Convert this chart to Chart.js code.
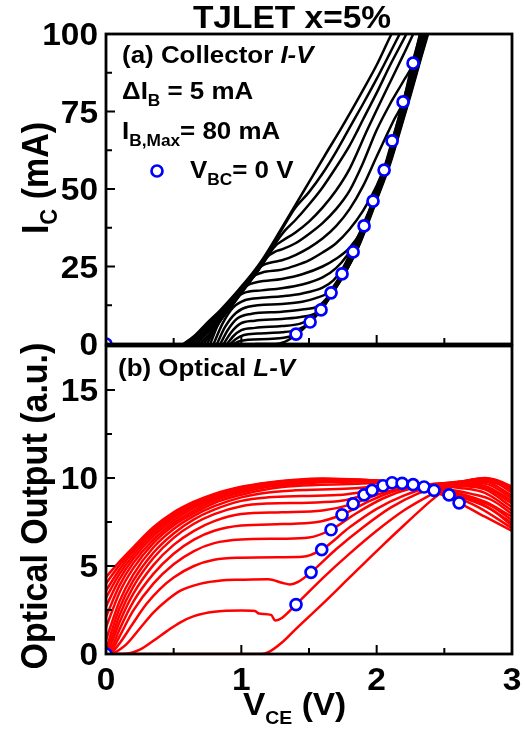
<!DOCTYPE html>
<html>
<head>
<meta charset="UTF-8">
<title>TJLET x=5%</title>
<script src="https://cdn.jsdelivr.net/npm/chart.js@4.4.1/dist/chart.umd.min.js"></script>
<style>
  html, body { margin: 0; padding: 0; background: #fff; }
  #wrap { position: relative; width: 525px; height: 732px; }
  #wrap canvas { position: absolute; left: 0; top: 0; }
</style>
</head>
<body>
<div id="wrap">
  <canvas id="lv" width="525" height="732"></canvas>
  <canvas id="iv" width="525" height="732"></canvas>
</div>
<script>
// ---- ticks ----
const vceTicks = [0, 1, 2, 3];
const vceMinor = [0.5, 1.5, 2.5];
const icTicks = [0, 25, 50, 75, 100];
const icMinor = [12.5, 37.5, 62.5, 87.5];
const lTicks = [0, 5, 10, 15];
const lMinor = [2.5, 7.5, 12.5];

// ---- V_BC = 0 V points ----
const vbcV_a = [0, 1.404, 1.508, 1.589, 1.663, 1.744, 1.826, 1.907, 1.973, 2.055, 2.114, 2.195, 2.269];
const vbcI_a = [0, 3.2, 7.1, 11.0, 16.5, 22.6, 29.7, 38.1, 46.1, 56.1, 65.5, 78.1, 90.6];
const vbcV_b = [0, 1.404, 1.515, 1.594, 1.663, 1.744, 1.826, 1.907, 1.966, 2.047, 2.114, 2.188, 2.269, 2.350, 2.424, 2.535, 2.609];
const vbcL_b = [0, 2.81, 4.64, 5.93, 7.06, 7.91, 8.53, 9.04, 9.30, 9.56, 9.73, 9.70, 9.62, 9.49, 9.30, 9.04, 8.59];

// ---- collector I-V, [V_CE, I_C], one per I_B (mA) ----
const iv00 = [[1.1,0],[1.25,0],[1.32,0.7],[1.38,2.2],[1.45,4.6],[1.525,7.8],[1.605,12],[1.69,17.5],[1.78,24],[1.865,31.3],[1.945,40],[2.015,48.2],[2.1,58.2],[2.165,67.6],[2.25,80.2],[2.33,92.6],[2.41,104.5]];
const iv05 = [[0.945,0],[0.98,0.8],[1.05,1.4],[1.2,1.6],[1.3,1.9],[1.36,2.4],[1.404,3.2],[1.515,7.4],[1.6,11.6],[1.685,17.2],[1.775,23.6],[1.86,31],[1.94,39.8],[2.01,48],[2.095,58],[2.16,67.4],[2.245,80],[2.325,92.4],[2.405,104.5]];
const iv10 = [[0.92,0],[0.96,1.6],[1.02,2.9],[1.12,3.4],[1.3,3.8],[1.4,4.4],[1.46,5.5],[1.508,7.1],[1.595,11.3],[1.68,17],[1.77,23.4],[1.855,30.8],[1.935,39.6],[2.005,47.8],[2.09,57.8],[2.155,67.2],[2.24,79.8],[2.32,92.2],[2.4,104.5]];
const iv15 = [[0.895,0],[0.94,2.5],[1.0,4.5],[1.1,5.2],[1.3,5.8],[1.43,6.5],[1.52,8.2],[1.589,11.0],[1.672,16.8],[1.762,23.2],[1.848,30.6],[1.928,39.4],[2.0,47.6],[2.085,57.6],[2.15,67],[2.235,79.6],[2.315,92],[2.395,104]];
const iv20 = [[0.87,0],[0.92,3.5],[0.99,6.5],[1.1,7.5],[1.3,8.1],[1.45,8.8],[1.55,10.0],[1.62,13.5],[1.663,16.5],[1.755,23],[1.84,30.4],[1.92,39.2],[1.995,47.4],[2.08,57.4],[2.145,66.9],[2.23,79.4],[2.31,91.9],[2.39,104]];
const iv25 = [[0.845,0],[0.9,4.5],[0.97,8.2],[1.07,9.7],[1.3,10.4],[1.45,11.1],[1.57,12.3],[1.65,15.8],[1.7,19.5],[1.744,22.6],[1.835,30.2],[1.915,39],[1.99,47.2],[2.075,57.2],[2.14,66.7],[2.225,79.2],[2.305,91.7],[2.385,104]];
const iv30 = [[0.82,0],[0.88,5.5],[0.96,10],[1.05,12],[1.3,12.9],[1.45,13.6],[1.55,14.8],[1.64,16.5],[1.7,19.8],[1.76,24.5],[1.826,29.7],[1.91,38.7],[1.985,47],[2.07,57],[2.135,66.5],[2.22,79],[2.3,91.5],[2.38,104]];
const iv35 = [[0.795,0],[0.86,6.5],[0.94,11.8],[1.03,14.2],[1.15,14.9],[1.3,15.4],[1.45,16.3],[1.6,18.2],[1.68,20.5],[1.75,24.5],[1.82,30.5],[1.87,34.8],[1.907,38.1],[1.98,46.8],[2.065,56.8],[2.13,66.2],[2.215,79],[2.295,91.5],[2.375,104]];
const iv40 = [[0.77,0],[0.84,7.5],[0.93,13.5],[1.02,16.5],[1.15,17.3],[1.3,18],[1.45,19.2],[1.6,21.5],[1.7,24.5],[1.78,28.5],[1.85,33.5],[1.91,39.5],[1.973,46.1],[2.06,56.8],[2.125,66.2],[2.21,79],[2.29,91.5],[2.37,104]];
const iv45 = [[0.745,0],[0.81,5],[0.89,10.5],[0.97,15.5],[1.04,18.8],[1.12,20],[1.3,21],[1.45,22.5],[1.6,25],[1.7,27.5],[1.8,31],[1.88,36],[1.95,43.5],[2.0,50.5],[2.055,56.1],[2.12,66],[2.2,78.8],[2.28,91.3],[2.36,103.5]];
const iv50 = [[0.72,0],[0.78,3.5],[0.86,8.5],[0.95,13.5],[1.02,18],[1.08,21.5],[1.15,23],[1.3,24],[1.4,25.3],[1.5,27],[1.6,29.5],[1.7,32.5],[1.8,37],[1.9,43],[2.0,51],[2.06,57.5],[2.114,65.5],[2.2,78.5],[2.28,91],[2.35,102]];
const iv55 = [[0.695,0],[0.76,3],[0.84,7.5],[0.93,12.5],[1.02,17.8],[1.09,22.5],[1.15,25.2],[1.22,26.3],[1.3,27],[1.4,28.7],[1.5,31],[1.6,34],[1.7,38],[1.8,43.5],[1.9,51],[2.0,60.5],[2.07,67],[2.13,72.5],[2.195,78.1],[2.26,90],[2.33,101],[2.4,112]];
const iv60 = [[0.67,0],[0.73,2.6],[0.82,7],[0.92,12],[1.02,17.5],[1.12,23.5],[1.19,28],[1.25,29.8],[1.3,30.5],[1.4,32.5],[1.5,35.5],[1.6,39],[1.7,43.5],[1.8,49.5],[1.9,58.5],[2.0,69],[2.1,77.5],[2.2,85],[2.269,90.6],[2.32,100],[2.38,110]];
const iv65 = [[0.645,0],[0.71,2.6],[0.8,6.8],[0.9,11.5],[1.01,17.5],[1.11,22.7],[1.19,28],[1.25,31.6],[1.3,33.2],[1.4,36],[1.5,39.5],[1.6,44],[1.7,49.5],[1.8,56.5],[1.93,69],[2.0,75.5],[2.1,84.5],[2.2,93.5],[2.27,100],[2.35,108]];
const iv70 = [[0.62,0],[0.69,2.6],[0.78,6.7],[0.88,11.4],[1.0,17.6],[1.1,22.7],[1.18,27.3],[1.26,33],[1.32,36.5],[1.4,40],[1.5,45],[1.6,50.5],[1.7,57],[1.8,64],[1.86,69],[1.9,72.5],[2.0,81],[2.1,90],[2.22,100],[2.3,107]];
const iv75 = [[0.595,0],[0.67,2.6],[0.76,6.6],[0.87,11.3],[0.99,17.6],[1.09,22.7],[1.17,27.5],[1.3,37],[1.4,44],[1.5,49],[1.6,55],[1.7,62],[1.79,69],[1.9,77.5],[2.0,85.5],[2.1,94],[2.17,100],[2.25,107]];
const iv80 = [[0.57,0],[0.65,2.5],[0.74,6.5],[0.85,11.2],[0.98,17.5],[1.08,22.7],[1.16,27.5],[1.3,37.5],[1.47,50],[1.64,62.5],[1.73,69],[1.9,82],[2.0,90],[2.11,100],[2.2,107]];

// ---- optical L-V, [V_CE, L], one per I_B (mA) ----
const lv00 = [[0,0],[1.15,0],[1.2,0.1],[1.3,0.65],[1.4,1.4],[1.6,2.85],[1.8,4.35],[2.0,5.85],[2.2,7.3],[2.4,8.7],[2.5,9.3],[2.6,9.65],[2.7,9.9],[2.8,10.0],[2.9,9.85],[3.0,9.5]];
const lv05 = [[0,0],[0.15,0.02],[0.25,0.25],[0.35,0.75],[0.45,1.3],[0.55,1.8],[0.65,2.15],[0.8,2.4],[1.0,2.47],[1.1,2.45],[1.13,2.3],[1.22,2.22],[1.25,1.9],[1.3,2.05],[1.404,2.81],[1.6,4.3],[1.8,5.7],[2.0,7.0],[2.2,8.15],[2.4,9.05],[2.5,9.45],[2.6,9.72],[2.7,9.9],[2.8,9.97],[2.9,9.8],[3.0,9.4]];
const lv10 = [[0,0],[0.05,0.05],[0.15,0.55],[0.25,1.45],[0.35,2.35],[0.45,3.05],[0.55,3.6],[0.7,4.0],[0.85,4.18],[1.0,4.22],[1.2,4.25],[1.3,4.05],[1.36,3.95],[1.42,4.1],[1.515,4.64],[1.7,5.95],[1.9,7.2],[2.1,8.3],[2.3,9.1],[2.5,9.6],[2.7,9.88],[2.8,9.92],[2.9,9.72],[3.0,9.3]];
const lv15 = [[0,0],[0.05,0.15],[0.1,0.6],[0.2,1.75],[0.3,2.85],[0.4,3.7],[0.5,4.35],[0.65,5.0],[0.8,5.35],[1.0,5.47],[1.3,5.5],[1.45,5.52],[1.594,5.93],[1.8,7.2],[2.0,8.25],[2.2,9.0],[2.4,9.5],[2.6,9.78],[2.8,9.85],[2.9,9.65],[3.0,9.15]];
const lv20 = [[0,0],[0.05,0.3],[0.1,1.0],[0.2,2.45],[0.35,4.0],[0.5,5.1],[0.65,5.85],[0.8,6.3],[1.0,6.5],[1.3,6.55],[1.5,6.62],[1.663,7.06],[1.85,8.0],[2.05,8.85],[2.25,9.4],[2.45,9.65],[2.65,9.8],[2.8,9.78],[3.0,9.0]];
const lv25 = [[0,0],[0.05,0.5],[0.1,1.4],[0.2,2.95],[0.35,4.55],[0.5,5.7],[0.65,6.5],[0.8,7.0],[1.0,7.3],[1.3,7.38],[1.55,7.48],[1.744,7.91],[1.95,8.7],[2.15,9.3],[2.35,9.6],[2.6,9.75],[2.8,9.68],[3.0,8.85]];
const lv30 = [[0,0],[0.05,0.8],[0.1,1.8],[0.2,3.4],[0.35,5.05],[0.5,6.2],[0.65,7.0],[0.8,7.55],[1.0,7.95],[1.3,8.05],[1.6,8.15],[1.826,8.53],[2.0,9.05],[2.2,9.45],[2.4,9.65],[2.6,9.7],[2.8,9.55],[3.0,8.7]];
const lv35 = [[0,0],[0.05,1.1],[0.1,2.2],[0.2,3.8],[0.35,5.45],[0.5,6.6],[0.65,7.4],[0.8,7.95],[1.0,8.4],[1.2,8.55],[1.5,8.6],[1.75,8.72],[1.907,9.04],[2.1,9.45],[2.3,9.65],[2.55,9.65],[2.8,9.45],[3.0,8.55]];
const lv40 = [[0,0.2],[0.05,1.5],[0.1,2.6],[0.2,4.15],[0.35,5.75],[0.5,6.85],[0.65,7.65],[0.8,8.2],[1.0,8.7],[1.2,8.9],[1.45,8.98],[1.75,9.05],[1.966,9.30],[2.15,9.55],[2.35,9.65],[2.6,9.55],[2.8,9.35],[3.0,8.35]];
const lv45 = [[0,0.8],[0.1,3.0],[0.2,4.5],[0.35,6.05],[0.5,7.1],[0.65,7.85],[0.8,8.4],[1.0,8.9],[1.2,9.18],[1.4,9.3],[1.8,9.4],[2.047,9.56],[2.2,9.68],[2.4,9.62],[2.6,9.45],[2.8,9.15],[3.0,8.15]];
const lv50 = [[0,1.5],[0.1,3.5],[0.2,4.85],[0.35,6.3],[0.5,7.3],[0.65,8.0],[0.8,8.58],[1.0,9.05],[1.2,9.38],[1.4,9.55],[1.8,9.66],[2.114,9.73],[2.3,9.62],[2.5,9.4],[2.7,9.1],[2.85,8.75],[3.0,7.95]];
const lv55 = [[0,2.1],[0.1,3.9],[0.2,5.15],[0.35,6.5],[0.5,7.45],[0.65,8.15],[0.8,8.72],[1.0,9.18],[1.2,9.5],[1.4,9.65],[1.7,9.78],[2.0,9.8],[2.188,9.70],[2.4,9.48],[2.6,9.15],[2.8,8.65],[3.0,7.8]];
const lv60 = [[0,2.7],[0.1,4.25],[0.2,5.4],[0.35,6.7],[0.5,7.6],[0.65,8.3],[0.8,8.83],[1.0,9.28],[1.2,9.57],[1.4,9.72],[1.7,9.85],[2.0,9.85],[2.269,9.62],[2.45,9.35],[2.65,8.98],[2.85,8.4],[3.0,7.6]];
const lv65 = [[0,3.2],[0.1,4.55],[0.2,5.6],[0.35,6.85],[0.5,7.75],[0.65,8.4],[0.8,8.92],[1.0,9.35],[1.2,9.63],[1.4,9.78],[1.7,9.9],[2.0,9.85],[2.2,9.7],[2.350,9.49],[2.55,9.15],[2.75,8.65],[3.0,7.45]];
const lv70 = [[0,3.6],[0.1,4.8],[0.2,5.8],[0.35,7.0],[0.5,7.85],[0.65,8.5],[0.8,9.0],[1.0,9.42],[1.2,9.68],[1.4,9.83],[1.6,9.92],[1.8,9.9],[2.0,9.85],[2.2,9.68],[2.424,9.30],[2.65,8.85],[2.85,8.2],[3.0,7.3]];
const lv75 = [[0,4.0],[0.1,5.05],[0.2,5.95],[0.35,7.1],[0.5,7.95],[0.65,8.6],[0.8,9.05],[1.0,9.47],[1.2,9.72],[1.4,9.87],[1.6,9.95],[1.8,9.92],[2.0,9.85],[2.2,9.7],[2.35,9.45],[2.535,9.04],[2.75,8.35],[3.0,7.15]];
const lv80 = [[0,4.37],[0.1,5.25],[0.2,6.05],[0.35,7.2],[0.5,8.05],[0.65,8.65],[0.8,9.1],[1.0,9.5],[1.2,9.75],[1.4,9.9],[1.6,9.97],[1.8,9.93],[2.0,9.85],[2.2,9.65],[2.4,9.3],[2.609,8.59],[2.8,7.8],[3.0,7.0]];

const ivCurves = [iv00, iv05, iv10, iv15, iv20, iv25, iv30, iv35, iv40, iv45, iv50, iv55, iv60, iv65, iv70, iv75, iv80];
const lvCurves = [lv00, lv05, lv10, lv15, lv20, lv25, lv30, lv35, lv40, lv45, lv50, lv55, lv60, lv65, lv70, lv75, lv80];

const FONT = '"Liberation Sans", Arial, sans-serif';
const SX = 1.08; // text in the figure is a bit wide

// draw a run of text pieces: [text, size, dy, italic]
function runWidth(ctx, parts) {
  let w = 0;
  parts.forEach(p => {
    ctx.font = (p[3] ? 'italic ' : '') + 'bold ' + p[1] + 'px ' + FONT;
    w += ctx.measureText(p[0]).width;
  });
  return w;
}
function drawRun(ctx, x, y, parts, align, rotate) {
  ctx.save();
  ctx.translate(x, y);
  ctx.scale(SX, 1);
  if (rotate) ctx.rotate(-Math.PI / 2);
  ctx.fillStyle = '#000';
  ctx.textAlign = 'left';
  ctx.textBaseline = 'alphabetic';
  const w = runWidth(ctx, parts);
  let cx = align === 'center' ? -w / 2 : (align === 'right' ? -w : 0);
  parts.forEach(p => {
    ctx.font = (p[3] ? 'italic ' : '') + 'bold ' + p[1] + 'px ' + FONT;
    ctx.fillText(p[0], cx, p[2] || 0);
    cx += ctx.measureText(p[0]).width;
  });
  ctx.restore();
}

function toXY(arr) { return arr.map(p => ({x: p[0], y: p[1]})); }

// frame, inward ticks and tick labels
function axesPlugin(opt) {
  return {
    id: 'axesBox',
    afterDatasetsDraw(chart) {
      const ctx = chart.ctx, a = chart.chartArea;
      const xs = chart.scales.x, ys = chart.scales.y;
      ctx.save();
      ctx.strokeStyle = '#000';
      ctx.lineWidth = 2;
      ctx.beginPath();
      opt.xMajor.forEach(v => { const p = xs.getPixelForValue(v); ctx.moveTo(p, a.bottom); ctx.lineTo(p, a.bottom - 9); });
      opt.xMinor.forEach(v => { const p = xs.getPixelForValue(v); ctx.moveTo(p, a.bottom); ctx.lineTo(p, a.bottom - 6); });
      opt.yMajor.forEach(v => { const p = ys.getPixelForValue(v); ctx.moveTo(a.left, p); ctx.lineTo(a.left + 9, p); });
      opt.yMinor.forEach(v => { const p = ys.getPixelForValue(v); ctx.moveTo(a.left, p); ctx.lineTo(a.left + 6, p); });
      ctx.stroke();
      ctx.lineWidth = 2.8;
      ctx.strokeRect(a.left, a.top, a.right - a.left, a.bottom - a.top);
      ctx.restore();
      opt.yMajor.forEach(v => {
        drawRun(ctx, a.left - 8, ys.getPixelForValue(v) + 11, [[String(v), 31]], 'right');
      });
      if (opt.xLabels) {
        opt.xMajor.forEach(v => {
          drawRun(ctx, xs.getPixelForValue(v), a.bottom + 36, [[String(v), 31]], 'center');
        });
      }
      if (opt.extra) opt.extra(chart);
    }
  };
}

function lineSets(curves, color) {
  return curves.map(c => ({
    data: toXY(c),
    borderColor: color,
    borderWidth: 2.5,
    pointRadius: 0,
    fill: false,
    cubicInterpolationMode: 'monotone',
    order: 2
  }));
}
function dotSet(vs, ys) {
  return {
    data: vs.map((v, i) => ({x: v, y: ys[i]})),
    showLine: false,
    borderWidth: 0,
    pointRadius: 5.5,
    pointBorderWidth: 2.7,
    pointBorderColor: '#0000ff',
    pointBackgroundColor: '#ffffff',
    clip: 0,
    order: 1
  };
}

function baseOptions(yMax, pad) {
  return {
    responsive: false,
    animation: false,
    devicePixelRatio: 1,
    layout: { padding: pad },
    plugins: { legend: { display: false }, tooltip: { enabled: false } },
    events: [],
    scales: {
      x: { type: 'linear', min: 0, max: 3, display: false },
      y: { type: 'linear', min: 0, max: yMax, display: false }
    }
  };
}

// top panel: collector I-V
new Chart(document.getElementById('iv'), {
  type: 'line',
  data: { datasets: lineSets(ivCurves, '#000000').concat([dotSet(vbcV_a, vbcI_a)]) },
  options: baseOptions(100, { left: 106, right: 13, top: 34, bottom: 732 - 344 }),
  plugins: [axesPlugin({
    xMajor: vceTicks, xMinor: vceMinor, yMajor: icTicks, yMinor: icMinor, xLabels: false,
    extra(chart) {
      const ctx = chart.ctx;
      drawRun(ctx, 292, 28, [['TJLET x=5%', 31]], 'center');
      drawRun(ctx, 122, 63, [['(a) Collector ', 24], ['I-V', 24, 0, true]]);
      drawRun(ctx, 122, 99, [['\u0394I', 24], ['B', 16, 7], [' = 5 mA', 24]]);
      drawRun(ctx, 122, 139, [['I', 24], ['B,Max', 16, 7], ['= 80 mA', 24]]);
      ctx.save();
      ctx.beginPath();
      ctx.arc(157, 171, 5.5, 0, Math.PI * 2);
      ctx.fillStyle = '#fff';
      ctx.fill();
      ctx.lineWidth = 2.7;
      ctx.strokeStyle = '#0000ff';
      ctx.stroke();
      ctx.restore();
      drawRun(ctx, 190, 178, [['V', 24], ['BC', 16, 7], ['= 0 V', 24]]);
      drawRun(ctx, 48, 178, [['I', 34], ['C', 22, 8], [' (mA)', 34]], 'center', true);
    }
  })]
});

// bottom panel: optical L-V
new Chart(document.getElementById('lv'), {
  type: 'line',
  data: { datasets: lineSets(lvCurves, '#ff0000').concat([dotSet(vbcV_b, vbcL_b)]) },
  options: baseOptions(17.5, { left: 106, right: 13, top: 346, bottom: 732 - 654 }),
  plugins: [{
    id: 'bg',
    beforeDraw(chart) {
      const ctx = chart.ctx;
      ctx.save();
      ctx.fillStyle = '#fff';
      ctx.fillRect(0, 0, chart.width, chart.height);
      ctx.restore();
    }
  }, axesPlugin({
    xMajor: vceTicks, xMinor: vceMinor, yMajor: lTicks, yMinor: lMinor, xLabels: true,
    extra(chart) {
      const ctx = chart.ctx;
      drawRun(ctx, 118, 376, [['(b) Optical ', 24], ['L-V', 24, 0, true]]);
      drawRun(ctx, 243, 715, [['V', 31], ['CE', 18, 9], [' (V)', 31]]);
      drawRun(ctx, 47, 506, [['Optical Output (a.u.)', 34]], 'center', true);
    }
  })]
});
</script>
</body>
</html>
